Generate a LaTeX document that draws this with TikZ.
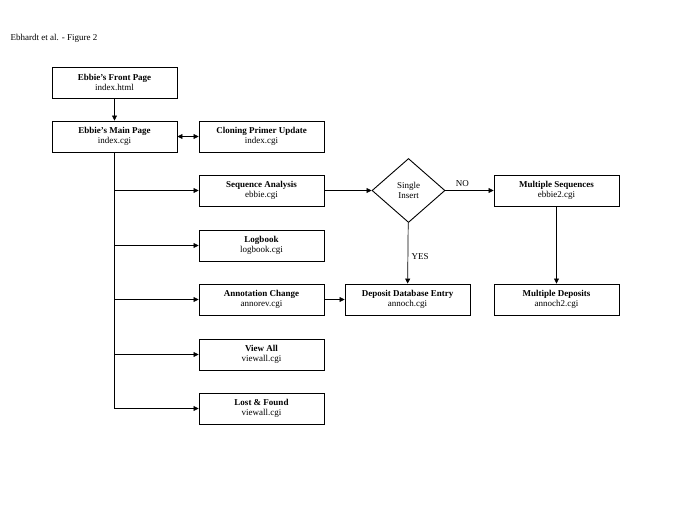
\documentclass[tikz,border=0pt]{standalone}
\usepackage{fontspec}
\setmainfont{Liberation Serif}
\usetikzlibrary{shapes.geometric,arrows.meta}
\begin{document}
\begin{tikzpicture}[x=1pt,y=-1pt,
  box/.style={draw,line width=0.9pt,minimum width=125pt,minimum height=31pt,align=center,font=\fontsize{9}{10}\selectfont,inner sep=1pt},
  arr/.style={-{Triangle[length=5pt,width=5pt]},line width=0.7pt},
  lab/.style={font=\fontsize{9}{10}\selectfont}]
\useasboundingbox (0,0) rectangle (685,529);
\node[anchor=west,lab] (title) at (7,38) {Ebhardt et al. - Figure 2};
\node[box] (front) at (114.5,82.5) {\textbf{Ebbie's Front Page}\\index.html};
\node[box] (main) at (114.5,136.5) {\textbf{Ebbie's Main Page}\\index.cgi};
\node[box] (clone) at (261.5,136.5) {\textbf{Cloning Primer Update}\\index.cgi};
\node[box] (seq) at (261.5,190.5) {\textbf{Sequence Analysis}\\ebbie.cgi};
\node[box] (log) at (261.5,245.5) {\textbf{Logbook}\\logbook.cgi};
\node[box] (anno) at (261.5,299.5) {\textbf{Annotation Change}\\annorev.cgi};
\node[box] (view) at (261.5,354.5) {\textbf{View All}\\viewall.cgi};
\node[box] (lost) at (261.5,408.5) {\textbf{Lost \& Found}\\viewall.cgi};
\node[draw,line width=0.9pt,diamond,minimum width=73pt,minimum height=64pt,inner sep=0pt,align=center,lab] (dia) at (408.5,190.5) {Single\\Insert};
\node[box] (mseq) at (556.5,190.5) {\textbf{Multiple Sequences}\\ebbie2.cgi};
\node[box] (dep) at (407.5,299.5) {\textbf{Deposit Database Entry}\\annoch.cgi};
\node[box] (mdep) at (556.5,299.5) {\textbf{Multiple Deposits}\\annoch2.cgi};
\coordinate (tend) at (114.5,408.5);
\draw[arr] (front) -- (main);
\draw[arr,{Triangle[length=5pt,width=5pt]}-{Triangle[length=5pt,width=5pt]}] (main) -- (clone);
\draw[line width=0.7pt] (main.south) -- (tend);
\foreach \n in {seq,log,anno,view,lost} \draw[arr] (114.5,0 |- \n.west) -- (\n.west);
\draw[arr] (seq) -- (dia);
\draw[arr] (dia) -- node[above,lab,pos=0.35]{NO} (mseq);
\draw[arr] (dia) -- node[right,lab,pos=0.55]{YES} (dep);
\draw[arr] (anno) -- (dep);
\draw[arr] (mseq) -- (mdep);
\end{tikzpicture}
\end{document}
